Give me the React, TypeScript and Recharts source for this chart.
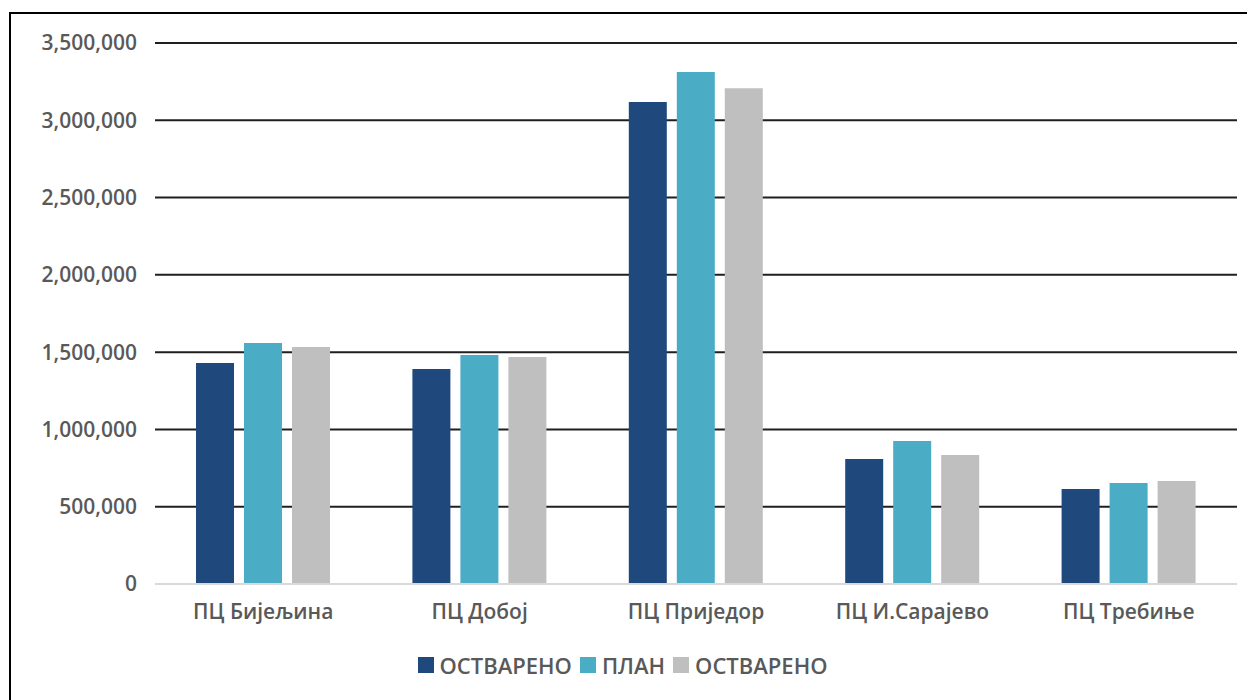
import { Bar, BarChart, CartesianGrid, Legend, XAxis, YAxis } from 'recharts';

const centri = ['ПЦ Бијељина', 'ПЦ Добој', 'ПЦ Приједор', 'ПЦ И.Сарајево', 'ПЦ Требиње'];
const ostvareno1 = [1429000, 1391000, 3118000, 808000, 614000];
const plan = [1559000, 1481000, 3312000, 925000, 653000];
const ostvareno2 = [1533000, 1468000, 3208000, 834000, 666000];
const yTicks = [0, 500000, 1000000, 1500000, 2000000, 2500000, 3000000, 3500000];

const serije = [
  { key: 'ostvareno1', naziv: 'ОСТВАРЕНО', boja: '#1f497d' },
  { key: 'plan', naziv: 'ПЛАН', boja: '#4bacc6' },
  { key: 'ostvareno2', naziv: 'ОСТВАРЕНО', boja: '#bfbfbf' },
];

const dados = centri.map((centar, i) => ({
  centar,
  ostvareno1: ostvareno1[i],
  plan: plan[i],
  ostvareno2: ostvareno2[i],
}));

const font = '"Open Sans", sans-serif';
const tickStyle = { fontSize: 21, fontWeight: 600, fill: '#595959', fontFamily: font };

function Legenda() {
  return (
    <div style={{ display: 'flex', justifyContent: 'center', gap: 8, fontFamily: font }}>
      {serije.map((s) => (
        <span key={s.key} style={{ display: 'flex', alignItems: 'center', gap: 6 }}>
          <span style={{ display: 'inline-block', width: 16, height: 16, background: s.boja }} />
          <span style={{ color: '#595959', fontSize: 22, fontWeight: 600 }}>{s.naziv}</span>
        </span>
      ))}
    </div>
  );
}

export default function App() {
  return (
    <div style={{ position: 'relative', width: 1247, height: 692, fontFamily: font }}>
      <div
        style={{
          position: 'absolute',
          left: 1,
          top: 4,
          width: 1246,
          height: 688,
          borderTop: '2px solid #000',
          borderLeft: '2px solid #000',
          boxSizing: 'border-box',
        }}
      />
      <BarChart
        width={1247}
        height={692}
        data={dados}
        margin={{ top: 35, right: 18, left: 0, bottom: 20 }}
        barSize={38}
        barGap={10}
      >
        <CartesianGrid
          vertical={false}
          stroke="#1f1f1f"
          strokeWidth={2}
          horizontalValues={yTicks.slice(1)}
        />
        <XAxis
          dataKey="centar"
          tickLine={false}
          axisLine={{ stroke: '#d9d9d9', strokeWidth: 2 }}
          tick={tickStyle}
          tickMargin={14}
          height={66}
        />
        <YAxis
          width={147}
          domain={[0, 3500000]}
          ticks={yTicks}
          tickLine={false}
          axisLine={false}
          tick={tickStyle}
          tickMargin={12}
          tickFormatter={(v: number) => v.toLocaleString('en-US')}
        />
        <Legend verticalAlign="bottom" align="center" content={() => <Legenda />} />
        {serije.map((s) => (
          <Bar key={s.key} dataKey={s.key} name={s.naziv} fill={s.boja} isAnimationActive={false} />
        ))}
      </BarChart>
    </div>
  );
}
